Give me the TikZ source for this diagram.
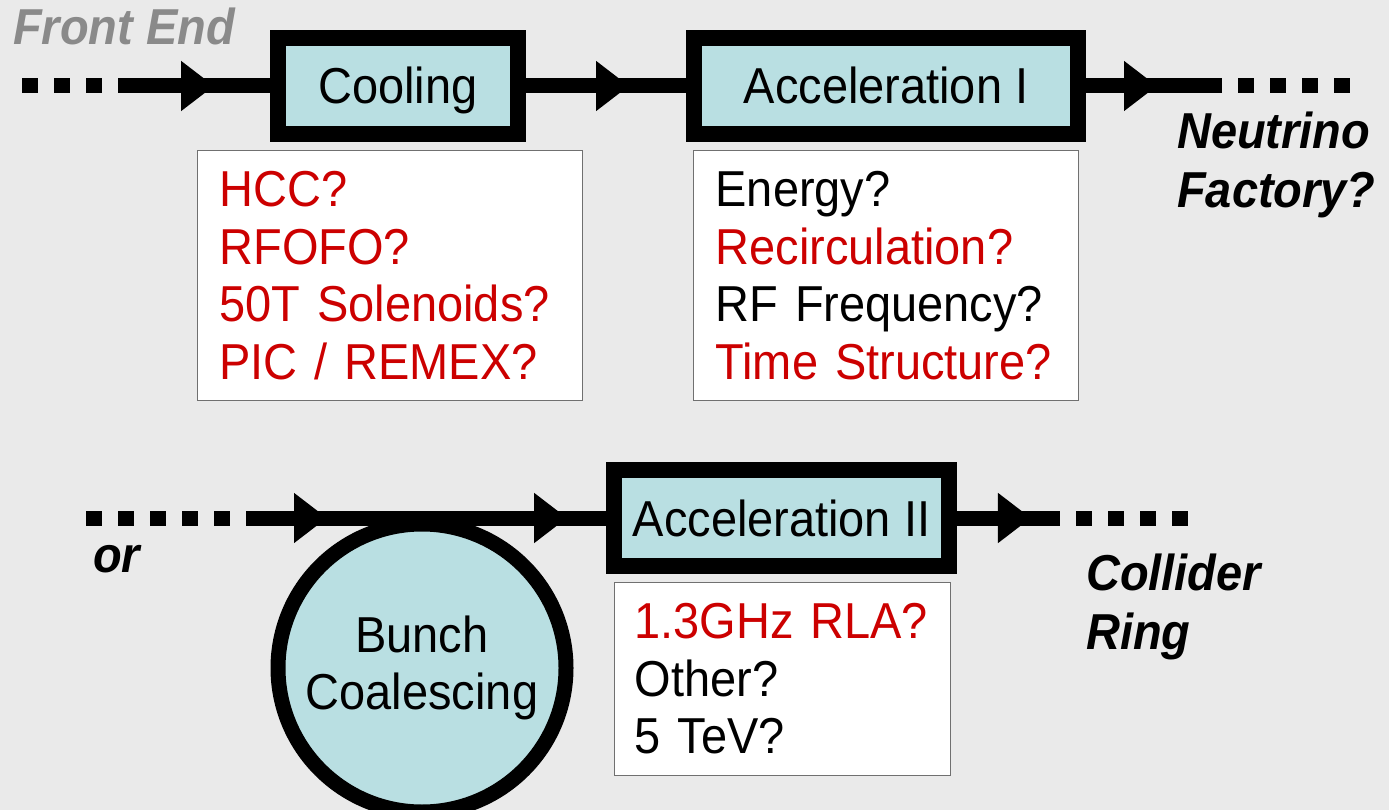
\documentclass[tikz,border=0pt]{standalone}
\usepackage{fontspec}
\setmainfont[FakeStretch=0.93]{Liberation Sans}
\usetikzlibrary{arrows.meta, decorations.markings, positioning}
\definecolor{BgGray}{HTML}{EAEAEA}
\definecolor{TealF} {HTML}{B9DFE2}
\definecolor{QRed}  {HTML}{CC0000}
\definecolor{FGray} {HTML}{8A8A8A}
\definecolor{BGray} {HTML}{707070}
\tikzset{
  stage/.style={
    rectangle, draw=black, fill=TealF, line width=16pt,
    font=\fontsize{50.5}{57.5}\selectfont, inner sep=0pt,
    minimum height=96pt, text height=36pt, text depth=0pt,
  },
  hub/.style={
    circle, draw=black, fill=TealF, line width=15pt,
    font=\fontsize{50.5}{57}\selectfont, align=center, inner sep=0pt,
  },
  note/.style={
    rectangle, draw=BGray, fill=white, line width=1.2pt,
    font=\fontsize{50.5}{57.5}\selectfont, align=left,
    anchor=north west, inner xsep=22pt, inner ysep=0pt,
    minimum height=250pt,
  },
  tag/.style={
    font=\fontsize{50.5}{58.5}\selectfont\bfseries\itshape,
    align=left, inner sep=0pt,
  },
  wire/.style={line width=15pt},
  dots/.style={line width=15pt, dash pattern=on 16pt off 16pt},
  tipat/.style={
    postaction={decorate, decoration={markings,
      mark=at position #1 with {\arrow{Triangle[length=33pt,width=48pt]}}}},
  },
}

\begin{document}
\begin{tikzpicture}[x=1pt,y=-1pt]
  \fill[BgGray] (0,0) rectangle (1389,810);
  \useasboundingbox (0,0) rectangle (1389,810);

  % upper chain
  \node[stage, minimum width=240pt] (cool) at (398,86) {Cooling};
  \node[stage, minimum width=384pt] (accI) at (886,86) {Acceleration I};
  \coordinate (fe0) at (22,86);
  \coordinate (fe)  at (118,86);
  \coordinate (nf)  at (1222,86);
  \coordinate (nf0) at (1350,86);

  \node[note, text=QRed, text width=341pt] (coolq) at (197,150)
    {HCC?\\RFOFO?\\50T Solenoids?\\PIC / REMEX?};
  \node[note, text width=341pt] (accIq) at (693,150)
    {Energy?\\\textcolor{QRed}{Recirculation?}\\RF Frequency?\\\textcolor{QRed}{Time Structure?}};

  \draw[dots] (fe0) -- (fe);
  \draw[wire, tipat=0.632] (fe) -- (cool);
  \draw[wire, tipat=0.644] (cool) -- (accI);
  \draw[wire, tipat=0.522] (accI) -- (nf);
  \draw[dots, dash phase=16pt] (nf) -- (nf0);

  \node[tag, text=FGray, anchor=base west] (fend) at (13,45) {Front End};
  \node[tag, anchor=west] (nufac) at (1177,165) {Neutrino\\Factory?};

  % lower chain
  \node[hub, minimum size=288pt] (bunch) at (422,668) {Bunch\\Coalescing};
  \node[stage, minimum width=335pt] (accII) at (781.5,518) {Acceleration II};
  \coordinate (or0) at (86,518);
  \coordinate (or1) at (246,518);
  \coordinate (cr)  at (1060,518);
  \coordinate (cr0) at (1190,518);

  \node[note, text width=296pt, inner xsep=20pt, minimum height=193pt] (accIIq) at (614,582)
    {\textcolor{QRed}{1.3GHz RLA?}\\Other?\\5 TeV?};

  \draw[dots] (or0) -- (or1);
  \draw[wire, tipat=0.225, tipat=0.892] (or1) -- (accII);
  \draw[wire, tipat=0.718] (accII) -- (cr);
  \draw[dots, dash phase=16pt] (cr) -- (cr0);

  \node[tag, anchor=base west] (orlbl) at (93,572) {or};
  \node[tag, anchor=west] (coll) at (1086,607) {Collider\\Ring};
\end{tikzpicture}
\end{document}
